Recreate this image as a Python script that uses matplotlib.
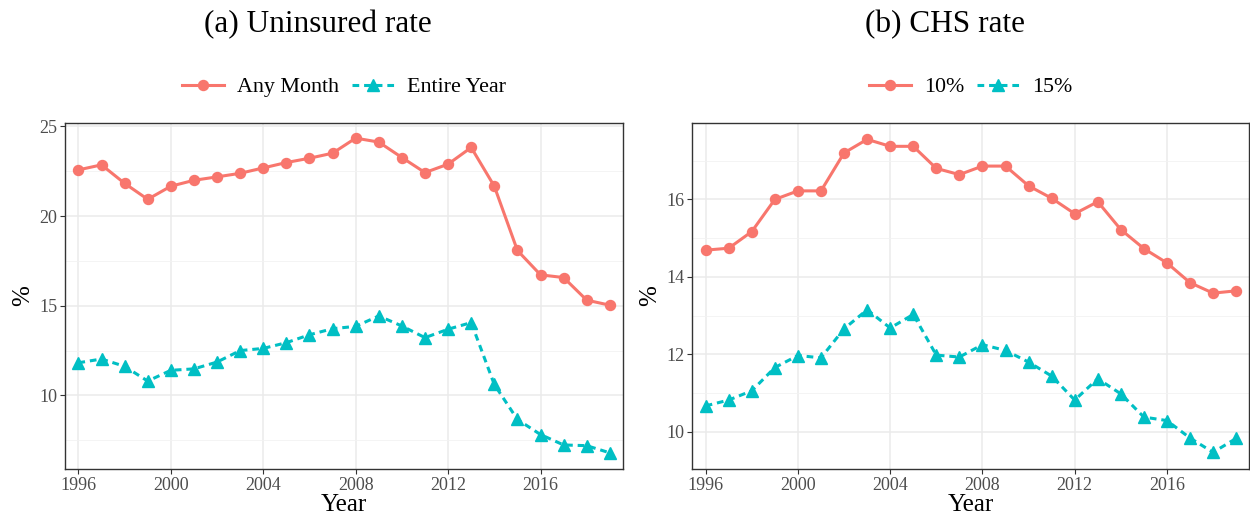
import matplotlib
matplotlib.use("Agg")
import matplotlib.pyplot as plt
from matplotlib.ticker import MultipleLocator, FixedLocator

years = list(range(1996, 2020))

uninsured_any_month = [22.57, 22.85, 21.82, 20.93, 21.66, 21.99, 22.18, 22.38, 22.68, 22.98,
                       23.22, 23.50, 24.34, 24.12, 23.26, 22.42, 22.89, 23.82, 21.66, 18.08,
                       16.72, 16.57, 15.31, 15.03]
uninsured_entire_year = [11.82, 12.03, 11.62, 10.80, 11.40, 11.48, 11.86, 12.50, 12.62, 12.94,
                         13.38, 13.72, 13.85, 14.43, 13.87, 13.22, 13.69, 14.06, 10.61, 8.66,
                         7.82, 7.24, 7.20, 6.80]
chs_10 = [14.69, 14.74, 15.17, 16.00, 16.22, 16.22, 17.20, 17.55, 17.37, 17.37,
          16.80, 16.64, 16.86, 16.86, 16.35, 16.03, 15.63, 15.94, 15.22, 14.73,
          14.36, 13.85, 13.58, 13.64]
chs_15 = [10.67, 10.82, 11.06, 11.66, 11.97, 11.91, 12.66, 13.15, 12.68, 13.03,
          11.98, 11.93, 12.25, 12.10, 11.80, 11.44, 10.82, 11.37, 10.98, 10.38,
          10.29, 9.84, 9.47, 9.83]

x_ticks = [1996, 2000, 2004, 2008, 2012, 2016]
titles = ["(a) Uninsured rate", "(b) CHS rate"]
labels_a = ["Any Month", "Entire Year"]
labels_b = ["10%", "15%"]

RED = "#F8766D"
CYAN = "#00BFC4"
SERIF = ["Liberation Serif", "DejaVu Serif"]
plt.rcParams["font.family"] = SERIF

W, H = 1250, 521
fig = plt.figure(figsize=(W / 100, H / 100), dpi=100)


def px_axes(left, top, right, bottom):
    return fig.add_axes([left / W, 1 - bottom / H, (right - left) / W, (bottom - top) / H])


def style(ax, ylim, ymajor, yminor):
    ax.set_xlim(1995.42, 2019.57)
    ax.set_ylim(*ylim)
    ax.xaxis.set_major_locator(FixedLocator(x_ticks))
    ax.yaxis.set_major_locator(MultipleLocator(ymajor))
    ax.yaxis.set_minor_locator(MultipleLocator(yminor))
    ax.grid(which="major", axis="both", color="#EBEBEB", linewidth=1.1, zorder=0)
    ax.grid(which="minor", axis="y", color="#F2F2F2", linewidth=0.6, zorder=0)
    ax.set_axisbelow(True)
    for s in ax.spines.values():
        s.set_color("#333333")
        s.set_linewidth(1.0)
    ax.tick_params(which="major", direction="out", length=3.5, width=0.8, color="#333333",
                   labelsize=13, labelcolor="#4D4D4D", pad=2)
    ax.tick_params(which="minor", length=0)
    ax.set_xlabel("Year", fontsize=18, color="black", labelpad=0)
    ax.set_ylabel("%", fontsize=18, color="black", labelpad=4)


def draw(ax, y1, y2, labels):
    ax.plot(years, y1, color=RED, linewidth=2.2, marker="o", markersize=7.2,
            label=labels[0], zorder=3)
    ax.plot(years, y2, color=CYAN, linewidth=2.2, linestyle=(0, (2.2, 1.6)),
            marker="^", markersize=8.2, label=labels[1], zorder=3)
    ax.legend(loc="center", bbox_to_anchor=(0.5, 1.103), ncol=2, frameon=False,
              fontsize=15.8, handlelength=1.9, handletextpad=0.6, columnspacing=0.6,
              borderaxespad=0)


ax1 = px_axes(65, 122.7, 623, 469)
draw(ax1, uninsured_any_month, uninsured_entire_year, labels_a)
style(ax1, (5.9, 25.2), 5, 2.5)

ax2 = px_axes(692.3, 122.7, 1249.3, 469)
draw(ax2, chs_10, chs_15, labels_b)
style(ax2, (9.04, 17.98), 2, 1)

fig.text(318 / W, 1 - 32 / H, titles[0], ha="center", va="baseline", fontsize=22.5)
fig.text(945 / W, 1 - 32 / H, titles[1], ha="center", va="baseline", fontsize=22.5)

fig.savefig("out.png", dpi=100)
